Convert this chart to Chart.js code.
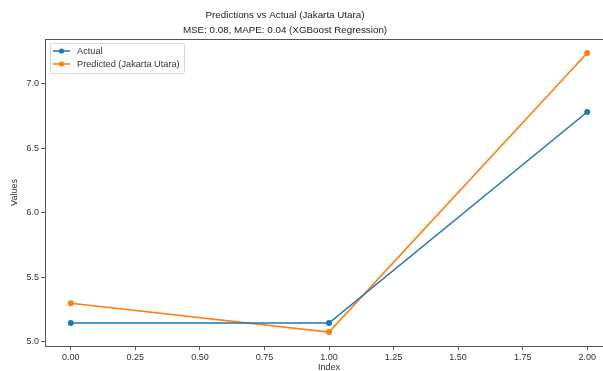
<!DOCTYPE html>
<html>
<head>
<meta charset="utf-8">
<script src="https://cdn.jsdelivr.net/npm/chart.js@4"></script>
<style>
  html, body { margin: 0; padding: 0; background: #fff; overflow: hidden; }
  #wrap { width: 603px; height: 371px; overflow: hidden; position: relative; }
  canvas { display: block; }
</style>
</head>
<body>
<div id="wrap"><canvas id="c" width="616" height="376"></canvas></div>
<script>
// ---- data ----
const indices = [0, 1, 2];
const actualValues = [5.147, 5.147, 6.78];
const predictedValues = [5.30, 5.077, 7.237];
const xTickValues = [0, 0.25, 0.5, 0.75, 1.0, 1.25, 1.5, 1.75, 2.0];
const yTickValues = [5.0, 5.5, 6.0, 6.5, 7.0];
const titleLines = ['Predictions vs Actual (Jakarta Utara)', 'MSE: 0.08, MAPE: 0.04 (XGBoost Regression)'];
const seriesLabels = ['Actual', 'Predicted (Jakarta Utara)'];

const FONT = "'Liberation Sans', Arial, sans-serif";
const BLUE = '#1f77b4';
const ORANGE = '#ff7f0e';

const framePlugin = {
  id: 'frame',
  afterDatasetsDraw(chart) {
    const {ctx, chartArea: a} = chart;
    ctx.save();
    ctx.strokeStyle = '#555';
    ctx.lineWidth = 1;
    ctx.strokeRect(a.left + 0.5, a.top + 0.5, a.right - a.left, a.bottom - a.top);
    ctx.restore();
  }
};

const titlePlugin = {
  id: 'mplTitle',
  afterDraw(chart) {
    const {ctx, chartArea: a} = chart;
    ctx.save();
    ctx.font = '9.8px ' + FONT;
    ctx.fillStyle = '#222';
    ctx.textAlign = 'center';
    ctx.textBaseline = 'middle';
    const cx = a.left + 240;
    titleLines.forEach((t, i) => ctx.fillText(t, cx, 15 + i * 15));
    ctx.restore();
  }
};

const legendPlugin = {
  id: 'mplLegend',
  afterDraw(chart) {
    const {ctx, chartArea: a} = chart;
    const x0 = a.left + 5, y0 = a.top + 4, w = 134, h = 30;
    ctx.save();
    ctx.fillStyle = 'rgba(255,255,255,0.85)';
    ctx.strokeStyle = '#d6d6d6';
    ctx.lineWidth = 1;
    ctx.beginPath();
    if (ctx.roundRect) ctx.roundRect(x0 + 0.5, y0 + 0.5, w, h, 2); else ctx.rect(x0 + 0.5, y0 + 0.5, w, h);
    ctx.fill();
    ctx.stroke();
    ctx.font = '9.2px ' + FONT;
    ctx.textBaseline = 'middle';
    chart.data.datasets.forEach((ds, i) => {
      const yy = y0 + 8 + i * 13;
      ctx.strokeStyle = ds.borderColor;
      ctx.lineWidth = 1.5;
      ctx.beginPath();
      ctx.moveTo(x0 + 3, yy);
      ctx.lineTo(x0 + 20, yy);
      ctx.stroke();
      ctx.fillStyle = ds.borderColor;
      ctx.beginPath();
      ctx.arc(x0 + 11.5, yy, 2.6, 0, Math.PI * 2);
      ctx.fill();
      ctx.fillStyle = '#333';
      ctx.fillText(ds.label, x0 + 27, yy);
    });
    ctx.restore();
  }
};

new Chart(document.getElementById('c'), {
  type: 'scatter',
  data: {
    datasets: [
      {
        label: seriesLabels[0],
        data: indices.map((x, i) => ({x: x, y: actualValues[i]})),
        showLine: true,
        borderColor: BLUE,
        backgroundColor: BLUE,
        borderWidth: 1.6,
        pointRadius: 3,
        pointBorderWidth: 0,
        pointHoverRadius: 3
      },
      {
        label: seriesLabels[1],
        data: indices.map((x, i) => ({x: x, y: predictedValues[i]})),
        showLine: true,
        borderColor: ORANGE,
        backgroundColor: ORANGE,
        borderWidth: 1.6,
        pointRadius: 3,
        pointBorderWidth: 0,
        pointHoverRadius: 3
      }
    ]
  },
  options: {
    responsive: false,
    animation: false,
    layout: { padding: { top: 39 } },
    plugins: {
      legend: { display: false },
      tooltip: { enabled: false },
      title: { display: false }
    },
    scales: {
      x: {
        type: 'linear',
        min: -0.1,
        max: 2.1,
        afterBuildTicks(scale) { scale.ticks = xTickValues.map(v => ({value: v})); },
        afterFit(scale) { scale.height = 30; },
        ticks: {
          color: '#333',
          font: { family: FONT, size: 9 },
          padding: 2,
          maxRotation: 0,
          autoSkip: false,
          callback: v => Number(v).toFixed(2)
        },
        grid: { display: true, drawOnChartArea: false, drawTicks: true, tickLength: 4, color: '#555' },
        border: { display: false },
        title: {
          display: true,
          text: 'Index',
          color: '#333',
          font: { family: FONT, size: 9 },
          padding: { top: 0, bottom: 2.6 }
        }
      },
      y: {
        type: 'linear',
        min: 4.969,
        max: 7.345,
        afterBuildTicks(scale) { scale.ticks = yTickValues.map(v => ({value: v})); },
        afterFit(scale) { scale.width = 45; },
        ticks: {
          color: '#333',
          font: { family: FONT, size: 9 },
          padding: 2,
          autoSkip: false,
          callback: v => Number(v).toFixed(1)
        },
        grid: { display: true, drawOnChartArea: false, drawTicks: true, tickLength: 4, color: '#555' },
        border: { display: false },
        title: {
          display: true,
          text: 'Values',
          color: '#333',
          font: { family: FONT, size: 9 },
          padding: { top: 9.6, bottom: 0 }
        }
      }
    }
  },
  plugins: [framePlugin, titlePlugin, legendPlugin]
});
</script>
</body>
</html>
